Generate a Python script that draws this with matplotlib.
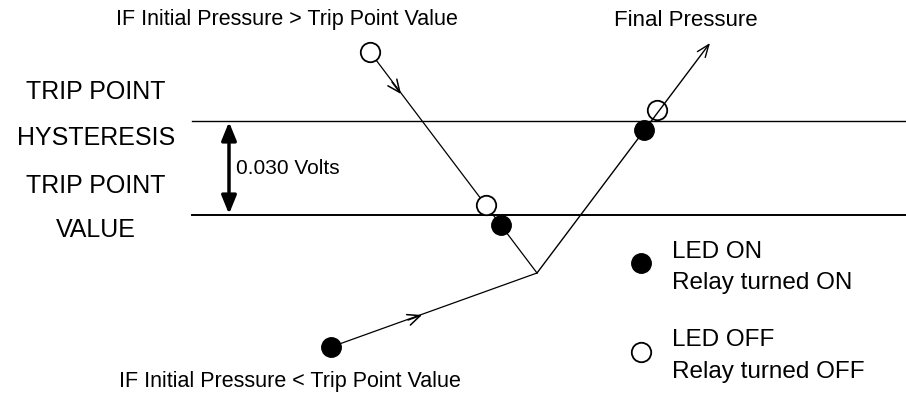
import matplotlib.pyplot as plt

plt.rcParams.update({'font.family': 'Liberation Sans'})

# diagram coordinates (pixel space, y down)
down_path_x = [370, 537]
down_path_y = [52, 273]
up_path_x = [331, 537, 710]
up_path_y = [347, 273, 43]

open_x = [370, 486, 657]
open_y = [52, 205, 110]
filled_x = [331, 501, 644]
filled_y = [347, 225, 130]

hyst_y = 121
trip_y = 215
volts_label = "0.030 Volts"

left_labels = ["TRIP POINT", "HYSTERESIS", "TRIP POINT", "VALUE"]
left_label_y = [92, 138, 186, 230]

legend_labels = ["LED ON", "Relay turned ON", "LED OFF", "Relay turned OFF"]
legend_label_y = [252, 283, 340, 372]


def plot_diagram():
    fig = plt.figure(figsize=(9.06, 3.98), dpi=100)
    ax = fig.add_axes([0, 0, 1, 1])
    ax.set_xlim(0, 906)
    ax.set_ylim(398, 0)
    ax.axis("off")

    # horizontal levels
    ax.plot([192, 906], [hyst_y, hyst_y], color="black", lw=1.0)
    ax.plot([192, 906], [trip_y, trip_y], color="black", lw=1.4)

    # hysteresis double arrow
    ax.annotate("", xy=(229, hyst_y + 1), xytext=(229, trip_y - 1),
                arrowprops=dict(arrowstyle="<|-|>,head_length=1.1,head_width=0.45",
                                lw=2.5, color="black", shrinkA=0, shrinkB=0))
    ax.text(236, 168, volts_label, fontsize=15, va="center", ha="left")

    for lab, y in zip(left_labels, left_label_y):
        ax.text(96, y, lab, fontsize=18, ha="center", va="center")

    # paths
    ax.plot(down_path_x, down_path_y, color="black", lw=0.9)
    ax.plot(up_path_x[:2], up_path_y[:2], color="black", lw=0.9)
    ax.annotate("", xy=(up_path_x[2], up_path_y[2]), xytext=(up_path_x[1], up_path_y[1]),
                arrowprops=dict(arrowstyle="->,head_length=0.9,head_width=0.35",
                                lw=1.0, color="black", shrinkA=0, shrinkB=0))

    # mid-path arrowheads
    ax.annotate("", xy=(401, 94), xytext=(392, 82),
                arrowprops=dict(arrowstyle="->,head_length=0.9,head_width=0.4",
                                lw=1.1, color="black", shrinkA=0, shrinkB=0))
    ax.annotate("", xy=(422, 315), xytext=(408, 320),
                arrowprops=dict(arrowstyle="->,head_length=0.9,head_width=0.4",
                                lw=1.1, color="black", shrinkA=0, shrinkB=0))

    # LED markers
    ax.plot(open_x, open_y, "o", ms=14, mfc="white", mec="black", mew=1.3, ls="none")
    ax.plot(filled_x, filled_y, "o", ms=14, mfc="black", mec="black", ls="none")

    # legend
    ax.plot([641], [263], "o", ms=14, mfc="black", mec="black")
    ax.plot([641], [352], "o", ms=14, mfc="white", mec="black", mew=1.3)
    for lab, y in zip(legend_labels, legend_label_y):
        ax.text(672, y, lab, fontsize=17.5, va="center")

    # captions
    ax.text(287, 20, "IF Initial Pressure > Trip Point Value", fontsize=15.5, ha="center", va="center")
    ax.text(686, 20, "Final Pressure", fontsize=16, ha="center", va="center")
    ax.text(290, 382, "IF Initial Pressure < Trip Point Value", fontsize=15.5, ha="center", va="center")

    plt.savefig("out.png", dpi=100)
    plt.close()


if __name__ == "__main__":
    plot_diagram()
